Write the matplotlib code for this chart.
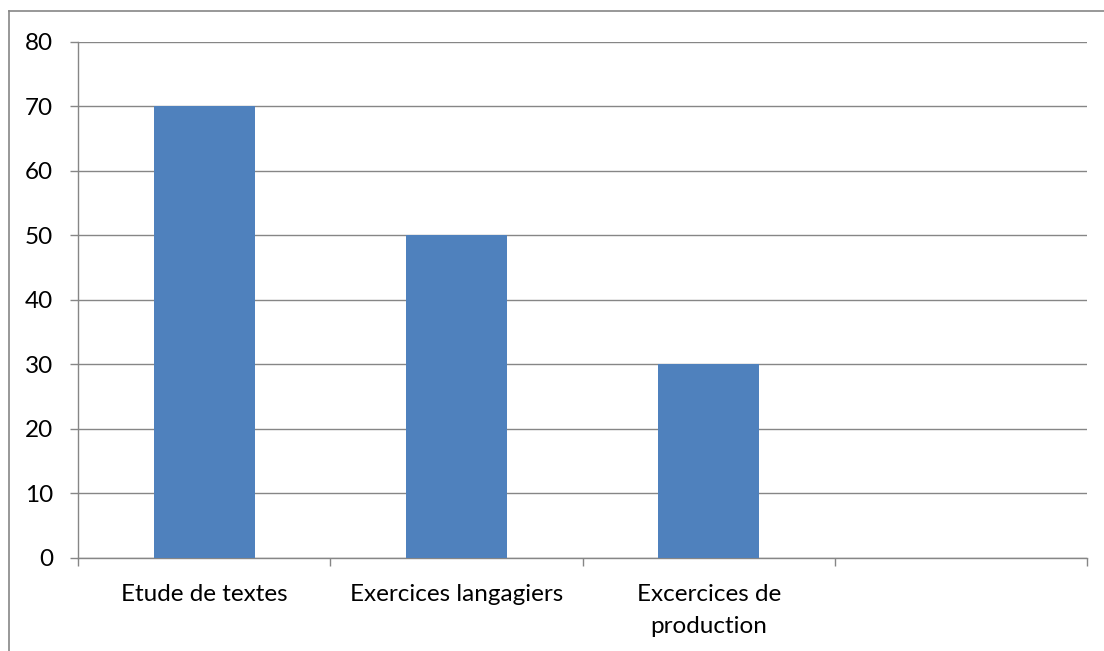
import numpy as np
import matplotlib.pyplot as plt
from matplotlib.lines import Line2D

categories = ["Etude de textes", "Exercices langagiers", "Excercices de\nproduction", ""]
values = [70, 50, 30, np.nan]
y_ticks = [0, 10, 20, 30, 40, 50, 60, 70, 80]

plt.rcParams['font.family'] = ['Lato', 'DejaVu Sans']

grey = '#868686'
bar_color = '#4F81BD'

fig = plt.figure(figsize=(11.04, 6.51), dpi=100)
ax = fig.add_axes([0.0707, 0.1429, 0.9139, 0.7926])

x = np.arange(len(categories))
ax.bar(x, values, width=0.4, color=bar_color, zorder=3)

ax.set_xlim(-0.5, len(categories) - 0.5)
ax.set_ylim(0, 80)
ax.set_yticks(y_ticks)
ax.set_yticklabels([str(v) for v in y_ticks], fontsize=17.5)
ax.set_xticks(x)
ax.set_xticklabels(categories, fontsize=17.5, linespacing=1.65)
ax.set_xticks(np.arange(len(categories) + 1) - 0.5, minor=True)

ax.tick_params(axis='x', which='major', length=0, pad=19)
ax.tick_params(axis='x', which='minor', length=6, color=grey, width=1)
ax.tick_params(axis='y', length=6, color=grey, width=1, pad=12)

ax.yaxis.grid(True, color=grey, linewidth=1, zorder=0)
ax.set_axisbelow(True)
for s in ['top', 'right']:
    ax.spines[s].set_visible(False)
for s in ['left', 'bottom']:
    ax.spines[s].set_color(grey)
    ax.spines[s].set_linewidth(1)

# chart area border (only top and left visible in the crop)
fig.add_artist(Line2D([9/1104, 9/1104], [0, 1 - 11/651], color=grey, linewidth=1.2, transform=fig.transFigure))
fig.add_artist(Line2D([9/1104, 1], [1 - 11/651, 1 - 11/651], color=grey, linewidth=1.2, transform=fig.transFigure))

fig.savefig('out.png', dpi=100)
